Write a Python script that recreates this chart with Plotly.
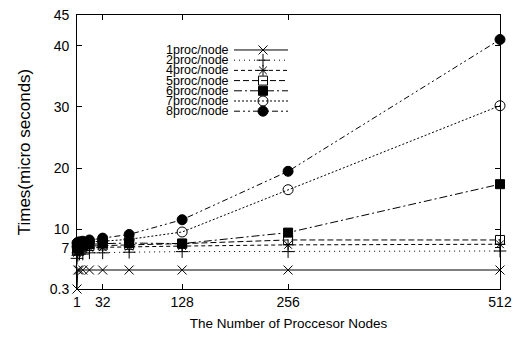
import plotly.graph_objects as go

nodes = [1, 2, 4, 8, 16, 32, 64, 128, 256, 512]
series_names = ["1proc/node", "2proc/node", "4proc/node", "5proc/node",
                "6proc/node", "7proc/node", "8proc/node"]
p1 = [0.3, 3.4, 3.4, 3.4, 3.4, 3.4, 3.4, 3.4, 3.4, 3.4]
p2 = [5.3, 5.8, 6.0, 6.0, 6.2, 6.2, 6.3, 6.4, 6.4, 6.5]
p4 = [6.2, 6.5, 6.7, 6.8, 7.0, 7.1, 7.2, 7.3, 7.5, 7.6]
p5 = [6.6, 6.9, 7.0, 7.2, 7.3, 7.4, 7.5, 7.7, 8.3, 8.3]
p6 = [7.0, 7.2, 7.4, 7.5, 7.6, 7.7, 7.8, 7.7, 9.5, 17.4]
p7 = [7.2, 7.4, 7.6, 7.8, 8.0, 8.1, 8.4, 9.6, 16.5, 30.2]
p8 = [7.8, 7.9, 8.0, 8.1, 8.3, 8.6, 9.2, 11.6, 19.5, 41.0]
x_ticks = [1, 32, 128, 256, 512]
y_ticks = [0.3, 7, 10, 20, 30, 40, 45]

values = [p1, p2, p4, p5, p6, p7, p8]
symbols = ["x-thin", "cross-thin", "asterisk", "square-open", "square",
           "circle-open", "circle"]
sizes = [9, 9, 9, 9, 9, 10, 10]
dashes = ["solid", "1px,4px", "4px,3px", "6px,3px", "8px,3px,2px,3px",
          "2px,2px", "6px,3px,2px,3px,2px,3px"]

FONT = "Liberation Sans, Arial, sans-serif"
W, H = 521, 346
L, R, T, B = 77, 500, 7, 289

fig = go.Figure()
for name, vals, sym, sz, dsh in zip(series_names, values, symbols, sizes, dashes):
    fig.add_trace(go.Scatter(
        x=nodes, y=vals, mode="lines+markers", name=name, showlegend=False,
        line=dict(color="black", width=1, dash=dsh),
        marker=dict(symbol=sym, size=sz, color="black",
                    line=dict(color="black", width=1)),
        cliponaxis=False,
    ))

# manual legend drawn in an overlay axis with range [0,1] (plot-area fractions)
def fx(px):
    return (px - L) / (R - L)

def fy(py):
    return (B - py) / (B - T)

rows = [43, 53.5, 64, 74.5, 85, 95.5, 106]
for i, (name, sym, sz, dsh) in enumerate(zip(series_names, symbols, sizes, dashes)):
    yy = fy(rows[i])
    fig.add_trace(go.Scatter(
        x=[fx(234), fx(288)], y=[yy, yy], mode="lines", showlegend=False,
        line=dict(color="black", width=1, dash=dsh), xaxis="x2", yaxis="y2",
        hoverinfo="skip"))
    fig.add_trace(go.Scatter(
        x=[fx(263)], y=[yy], mode="markers", showlegend=False,
        marker=dict(symbol=sym, size=sz, color="black",
                    line=dict(color="black", width=1)),
        xaxis="x2", yaxis="y2", hoverinfo="skip"))
    fig.add_annotation(x=fx(231), y=yy, xref="x2", yref="y2", text=name,
                       showarrow=False, xanchor="right", yanchor="middle",
                       font=dict(family=FONT, size=12.5, color="black"))

axis_common = dict(showline=True, linecolor="black", linewidth=1, mirror="ticks",
                   ticks="inside", ticklen=5, tickcolor="black", showgrid=False,
                   zeroline=False, ticklabeloverflow="allow",
                   tickfont=dict(family=FONT, size=14, color="black"))

fig.update_layout(
    width=W, height=H,
    margin=dict(l=L, r=W - R, t=T, b=H - B),
    paper_bgcolor="white", plot_bgcolor="white",
    xaxis=dict(range=[1, 512], tickvals=x_ticks, ticktext=[str(v) for v in x_ticks],
               title=dict(text="The Number of Proccesor Nodes", standoff=9,
                          font=dict(family=FONT, size=13.5, color="black")),
               **axis_common),
    yaxis=dict(range=[0.3, 45], tickvals=y_ticks, ticktext=[str(v) + " " for v in y_ticks],
               title=dict(text="Times(micro seconds)", standoff=14,
                          font=dict(family=FONT, size=17, color="black")),
               **axis_common),
    xaxis2=dict(range=[0, 1], overlaying="x", visible=False, anchor="y2"),
    yaxis2=dict(range=[0, 1], overlaying="y", visible=False, anchor="x2"),
    showlegend=False,
)

fig.write_html("out.html")
